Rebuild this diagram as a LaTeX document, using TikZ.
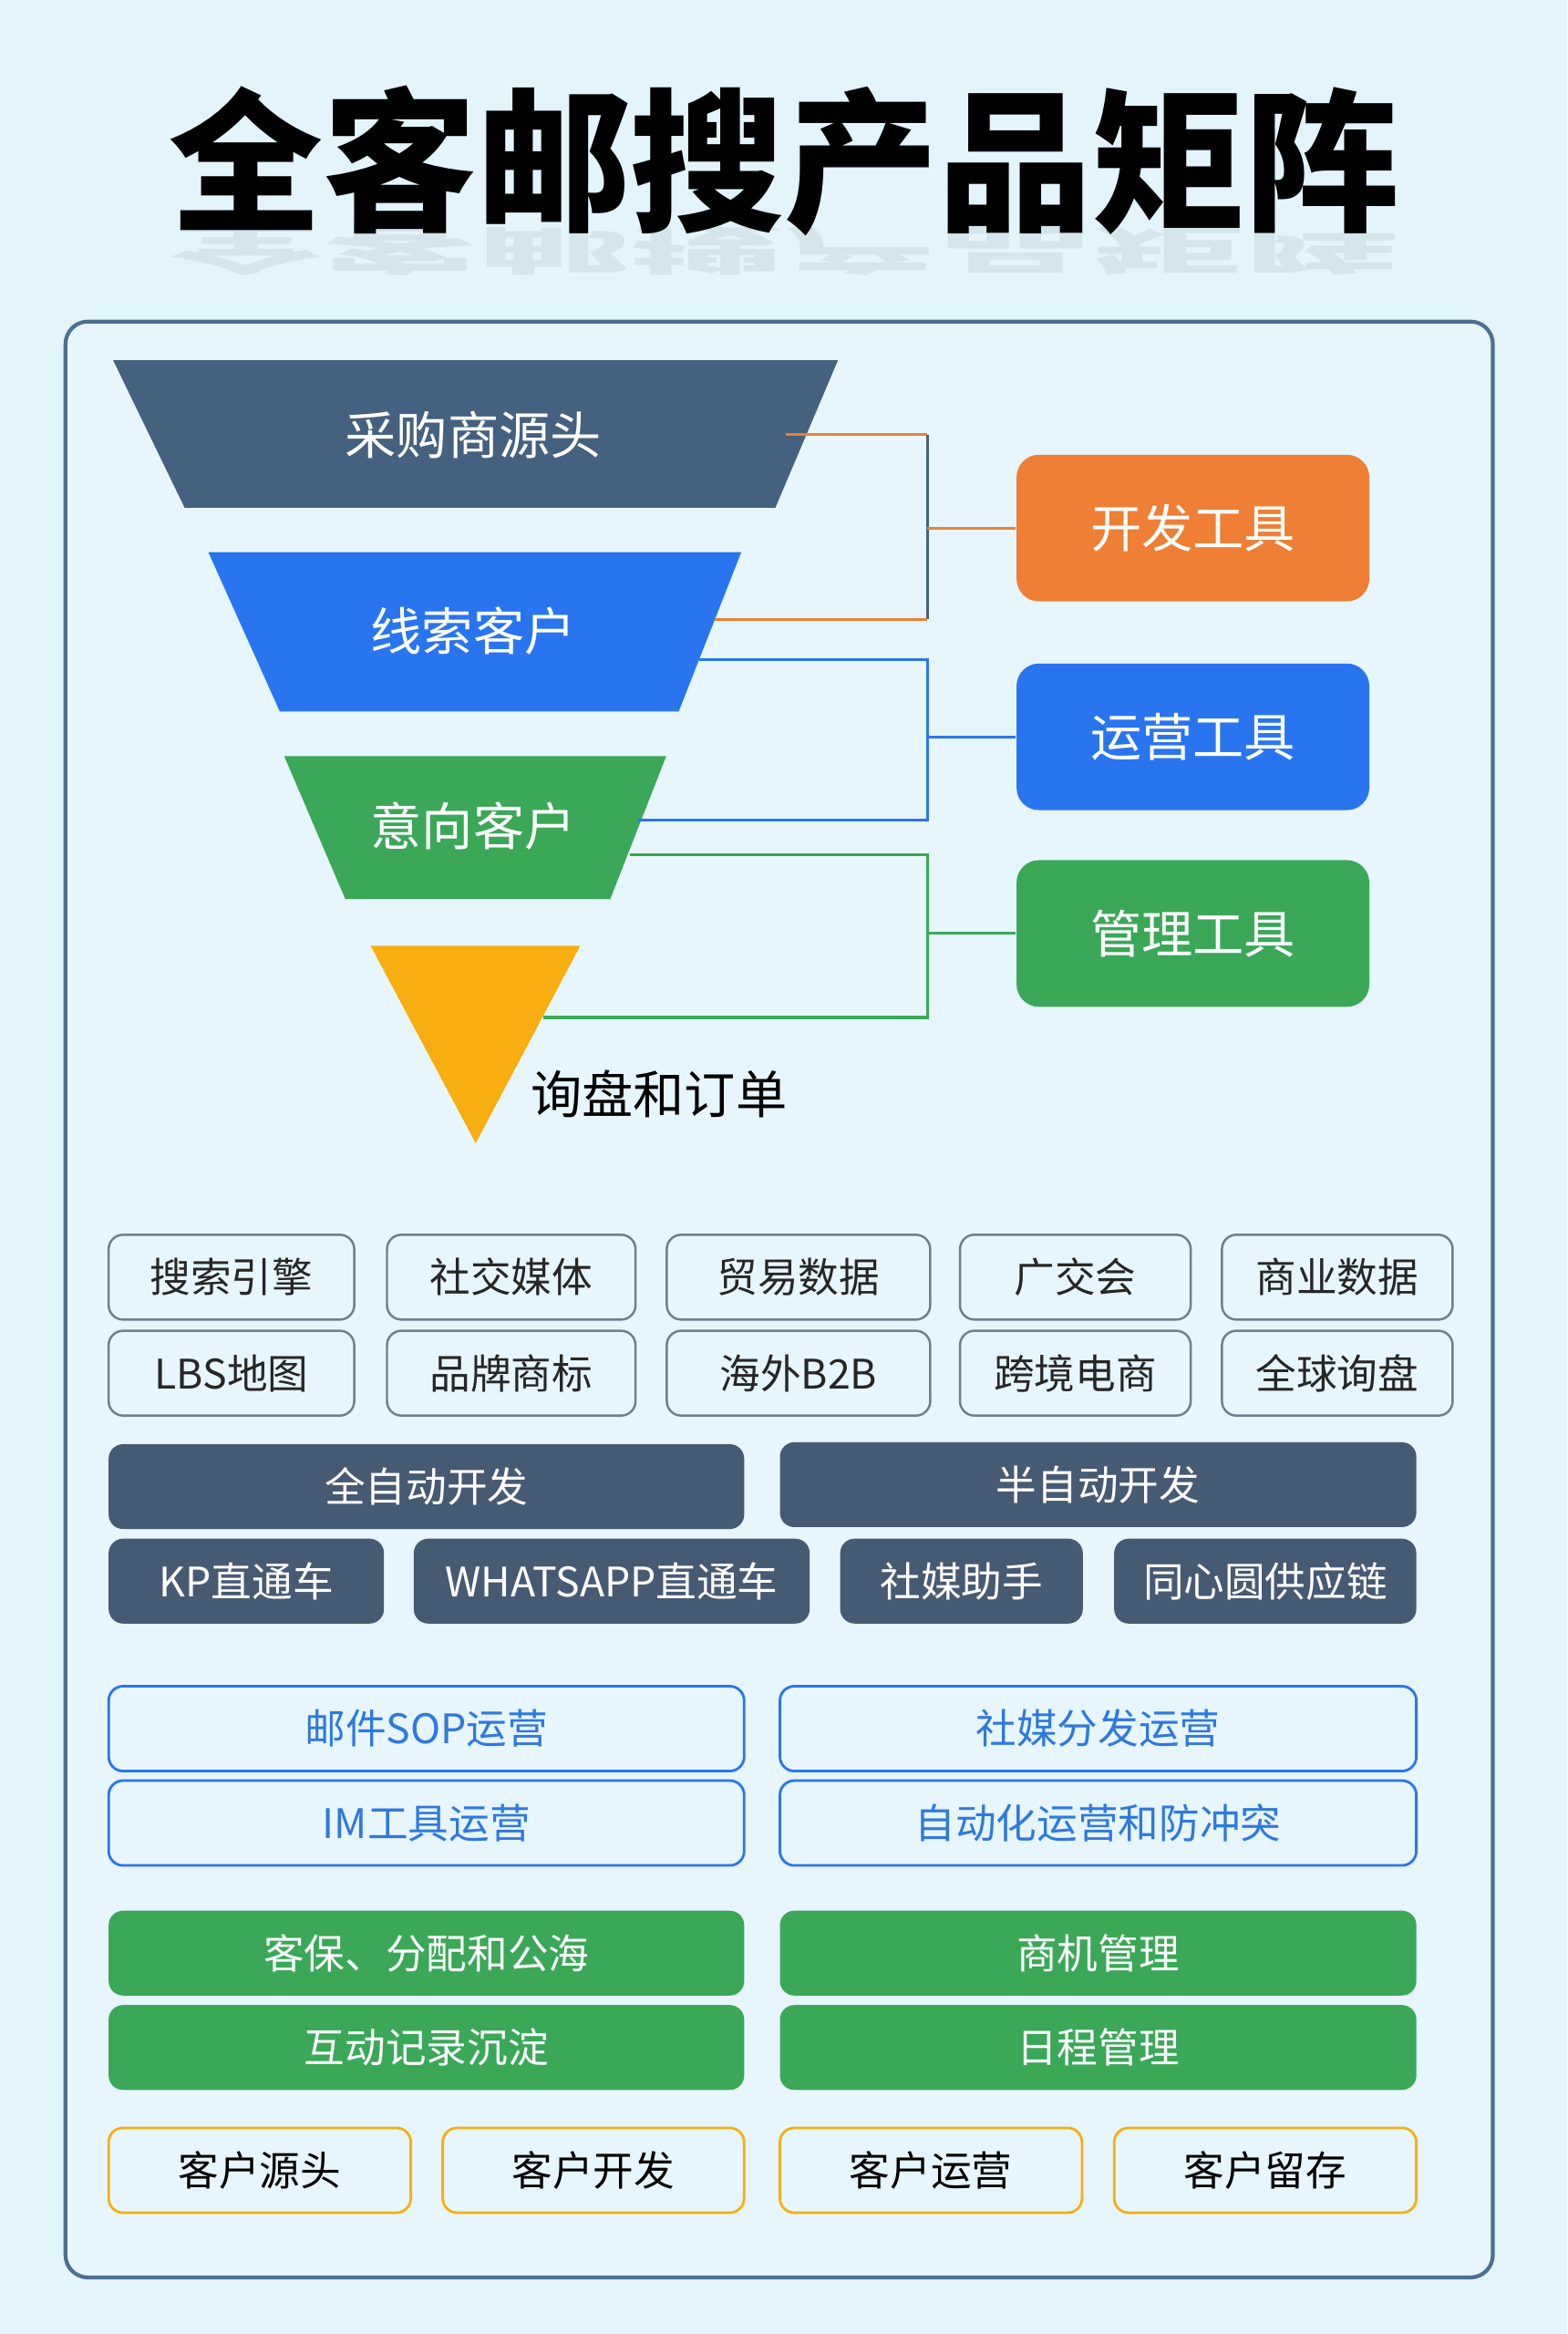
\documentclass[tikz,border=0pt]{standalone}
\usepackage{fontspec}
\setmainfont{Noto Sans CJK SC}

\definecolor{bgblue}{HTML}{E3F4FB}
\definecolor{panelblue}{HTML}{E6F6FC}
\definecolor{panelline}{HTML}{4C6F92}
\definecolor{slate}{HTML}{44617F}
\definecolor{darkslate}{HTML}{475A74}
\definecolor{toolblue}{HTML}{2975F0}
\definecolor{textblue}{HTML}{2E78E0}
\definecolor{toolgreen}{HTML}{3AA857}
\definecolor{toolorange}{HTML}{EE7F34}
\definecolor{gold}{HTML}{F8AE10}
\definecolor{boxgray}{HTML}{6F7F8B}

\begin{document}
\begin{tikzpicture}[x=0.016334cm, y=-0.016327cm,
	funtext/.style={text=white, font=\fontsize{16}{18}\selectfont},
	toolbox/.style={rounded corners=7pt, minimum width=237*0.016334cm, minimum height=98.5*0.016334cm, text=white, font=\fontsize{16}{18}\selectfont},
	small/.style={inner sep=0pt, rounded corners=4.5pt, minimum height=57*0.016334cm, font=\fontsize{12.7}{14}\selectfont},
	w/.style={minimum width=#1*0.016334cm},
	graybox/.style={small, draw=boxgray, line width=0.7pt, fill=panelblue, text=black!85},
	darkbox/.style={small, fill=darkslate, text=white},
	bluebox/.style={small, draw=toolblue, line width=0.8pt, fill=panelblue, text=textblue},
	greenbox/.style={small, fill=toolgreen, text=white},
	goldbox/.style={small, draw=gold, line width=0.8pt, fill=panelblue, text=black},
	link/.style={line width=0.9pt}]

	\useasboundingbox[fill=bgblue] (0,0) rectangle (1053,1568);

	% title and its reflection
	\node[font=\fontsize{48}{52}\selectfont\bfseries] (title) at (527,108) {全客邮搜产品矩阵};
	\node[font=\fontsize{48}{52}\selectfont\bfseries, yscale=-0.35, transform shape, opacity=0.06] (shadow) at (527,168) {全客邮搜产品矩阵};

	% panel
	\draw[draw=panelline, line width=1.2pt, fill=panelblue, rounded corners=7pt] (44,216) rectangle (1003,1530);

	% funnel
	\fill[slate] (76,242) -- (563,242) -- (521,341) -- (124,341) -- cycle;
	\fill[toolblue] (140,371) -- (498,371) -- (456,478) -- (188,478) -- cycle;
	\fill[toolgreen] (191,508) -- (447.6,508) -- (410,604) -- (232,604) -- cycle;
	\fill[gold] (249,635.4) -- (389.8,635.4) -- (319.6,768) -- cycle;

	\node[funtext] (src) at (318,292) {采购商源头};
	\node[funtext] (lead) at (318,424) {线索客户};
	\node[funtext] (want) at (318,555) {意向客户};
	\node[font=\fontsize{16}{18}\selectfont, anchor=west] (order) at (349,735) {询盘和订单};

	% tools
	\node[toolbox, fill=toolorange] (dev) at (801.5,354.75) {开发工具};
	\node[toolbox, fill=toolblue] (ops) at (801.5,495) {运营工具};
	\node[toolbox, fill=toolgreen] (mgmt) at (801.5,627.1) {管理工具};

	% connectors
	\coordinate (j) at (623,0);
	\coordinate (o1) at (528,292);
	\coordinate (o2) at (480,416);
	\coordinate (b1) at (470,443);
	\coordinate (b2) at (429,551);
	\coordinate (g1) at (423,574);
	\coordinate (g2) at (365,683.5);

	\draw[link, toolorange] (o1) -- (o1 -| j);
	\draw[link, slate] (o1 -| j) -- (o2 -| j);
	\draw[link, toolorange] (o2) -- (o2 -| j);
	\draw[link, toolorange] (dev.west -| j) -- (dev.west);

	\draw[link, toolblue] (b1) -- (b1 -| j) -- (b2 -| j) -- (b2);
	\draw[link, toolblue] (ops.west -| j) -- (ops.west);

	\draw[link, toolgreen] (g1) -- (g1 -| j) -- (g2 -| j) -- (g2);
	\draw[link, toolgreen] (mgmt.west -| j) -- (mgmt.west);

	% sources
	\node[graybox, w=165] (se) at (155.5,858) {搜索引擎};
	\node[graybox, w=167] (sm) at (343.5,858) {社交媒体};
	\node[graybox, w=177] (td) at (536.5,858) {贸易数据};
	\node[graybox, w=155] (cf) at (722.5,858) {广交会};
	\node[graybox, w=155] (bd) at (898.5,858) {商业数据};
	\node[graybox, w=165] (lbs) at (155.5,922.5) {LBS地图};
	\node[graybox, w=167] (bt) at (343.5,922.5) {品牌商标};
	\node[graybox, w=177] (b2b) at (536.5,922.5) {海外B2B};
	\node[graybox, w=155] (ce) at (722.5,922.5) {跨境电商};
	\node[graybox, w=155] (gi) at (898.5,922.5) {全球询盘};

	% development
	\node[darkbox, w=427] (full) at (286.5,998.7) {全自动开发};
	\node[darkbox, w=427.6] (half) at (737.8,997.4) {半自动开发};
	\node[darkbox, w=185] (kp) at (165.5,1062.2) {KP直通车};
	\node[darkbox, w=266] (wa) at (411,1062.2) {WHATSAPP直通车};
	\node[darkbox, w=163] (sa) at (646,1062.2) {社媒助手};
	\node[darkbox, w=203] (sc) at (850.1,1062.2) {同心圆供应链};

	% operation
	\node[bluebox, w=427] (mail) at (286.5,1161.3) {邮件SOP运营};
	\node[bluebox, w=427.6] (social) at (737.8,1161.3) {社媒分发运营};
	\node[bluebox, w=427] (im) at (286.5,1224.7) {IM工具运营};
	\node[bluebox, w=427.6] (auto) at (737.8,1224.7) {自动化运营和防冲突};

	% management
	\node[greenbox, w=427] (pool) at (286.5,1312.1) {客保、分配和公海};
	\node[greenbox, w=427.6] (opp) at (737.8,1312.1) {商机管理};
	\node[greenbox, w=427] (rec) at (286.5,1375.5) {互动记录沉淀};
	\node[greenbox, w=427.6] (cal) at (737.8,1375.5) {日程管理};

	% customer stages
	\node[goldbox, w=203] (cs) at (174.5,1458) {客户源头};
	\node[goldbox, w=202.5] (cd) at (398.7,1458) {客户开发};
	\node[goldbox, w=203] (co) at (625.5,1458) {客户运营};
	\node[goldbox, w=203] (cr) at (850.1,1458) {客户留存};

\end{tikzpicture}
\end{document}
